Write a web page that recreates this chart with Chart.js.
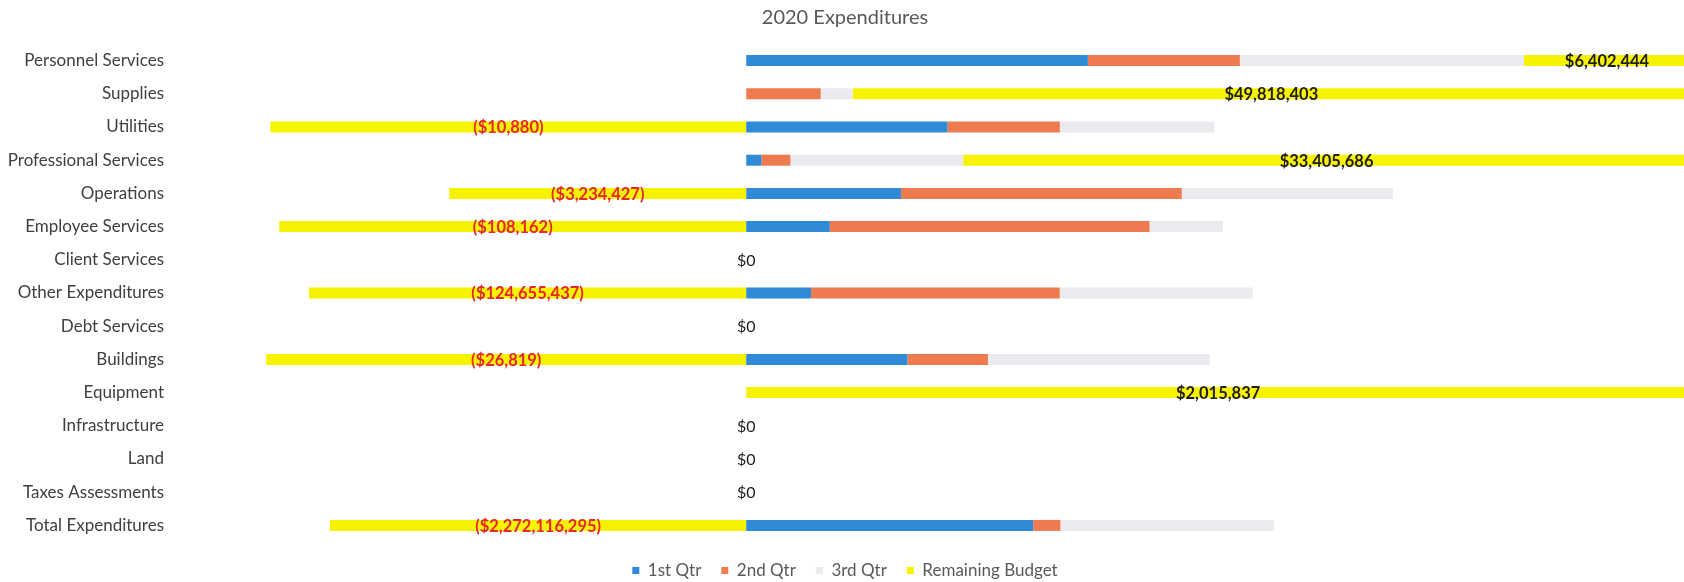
<!DOCTYPE html>
<html>
<head>
<meta charset="utf-8">
<script src="https://cdn.jsdelivr.net/npm/chart.js@4"></script>
<style>
  html, body { margin: 0; padding: 0; background: #fff; overflow: hidden; }
  #wrap { width: 1706px; height: 589px; }
</style>
</head>
<body>
<div id="wrap"><canvas id="myChart" width="1706" height="589"></canvas></div>
<script>
const categories = ['Personnel Services', 'Supplies', 'Utilities', 'Professional Services', 'Operations',
  'Employee Services', 'Client Services', 'Other Expenditures', 'Debt Services', 'Buildings',
  'Equipment', 'Infrastructure', 'Land', 'Taxes Assessments', 'Total Expenditures'];

const qtr1 = [13170000, 0, 4600, 690000, 1685000, 19340, 0, 18470000, 0, 9000, 0, 0, 0, 0, 1566000000];
const qtr2 = [5860000, 4430000, 2570, 1340000, 3058000, 74060, 0, 70890000, 0, 4500, 0, 0, 0, 0, 149000000];
const qtr3 = [10950000, 1900000, 3530, 7940000, 2300000, 17000, 0, 55000000, 0, 12400, 0, 0, 0, 0, 1164000000];
const remaining = [6402444, 49818403, -10880, 33405686, -3234427, -108162, 0, -124655437, 0, -26819, 2015837, 0, 0, 0, -2272116295];

const seriesNames = ['1st Qtr', '2nd Qtr', '3rd Qtr', 'Remaining Budget'];
const seriesColors = ['#2F8AD8', '#EE7A50', '#E9EBEF', '#F7F300'];

// 100% stacked: every row is split by the sum of absolute amounts
const rowTotals = categories.map((c, i) =>
  Math.abs(qtr1[i]) + Math.abs(qtr2[i]) + Math.abs(qtr3[i]) + Math.abs(remaining[i]));
function shares(arr) {
  return arr.map((v, i) => rowTotals[i] ? v / rowTotals[i] : 0);
}

function money(v) {
  const s = '$' + Math.abs(Math.round(v)).toLocaleString('en-US');
  return v < 0 ? '(' + s + ')' : s;
}

// value labels for the remaining budget, centred on each yellow segment
const budgetLabels = {
  id: 'budgetLabels',
  afterDatasetsDraw(chart) {
    const ctx = chart.ctx;
    const meta = chart.getDatasetMeta(3);
    ctx.save();
    ctx.textAlign = 'center';
    ctx.textBaseline = 'middle';
    meta.data.forEach((bar, i) => {
      const v = remaining[i];
      ctx.fillStyle = v < 0 ? '#E5262C' : '#1E1E1E';
      ctx.font = v === 0 ? '16px Lato' : 'bold 16.5px Lato';
      ctx.fillText(money(v), (bar.x + bar.base) / 2, bar.y + 1);
    });
    ctx.restore();
  }
};

const ctx = document.getElementById('myChart').getContext('2d');
const sets = [qtr1, qtr2, qtr3, remaining];

new Chart(ctx, {
  type: 'bar',
  data: {
    labels: categories,
    datasets: sets.map((arr, k) => ({
      label: seriesNames[k],
      data: shares(arr),
      backgroundColor: seriesColors[k],
      borderWidth: 0,
      inflateAmount: 0,
      barThickness: 11
    }))
  },
  options: {
    indexAxis: 'y',
    responsive: false,
    animation: false,
    layout: { padding: { left: 0, right: 16, top: 0, bottom: 0 } },
    scales: {
      x: {
        stacked: true,
        display: false,
        min: -0.6,
        max: 1.0
      },
      y: {
        stacked: true,
        grid: { display: false, drawTicks: false },
        border: { display: false },
        ticks: { color: '#404040', font: { family: 'Lato', size: 17 }, padding: 16 },
        afterFit(scale) { scale.width = 180; }
      }
    },
    plugins: {
      title: {
        display: true,
        text: '2020 Expenditures',
        color: '#595959',
        font: { family: 'Lato', size: 20, weight: 'normal' },
        padding: { top: 6, bottom: 14 }
      },
      legend: {
        position: 'bottom',
        labels: {
          color: '#595959',
          font: { family: 'Lato', size: 17 },
          boxWidth: 7,
          boxHeight: 7,
          padding: 20
        }
      },
      tooltip: { enabled: false }
    }
  },
  plugins: [budgetLabels]
});
</script>
</body>
</html>
